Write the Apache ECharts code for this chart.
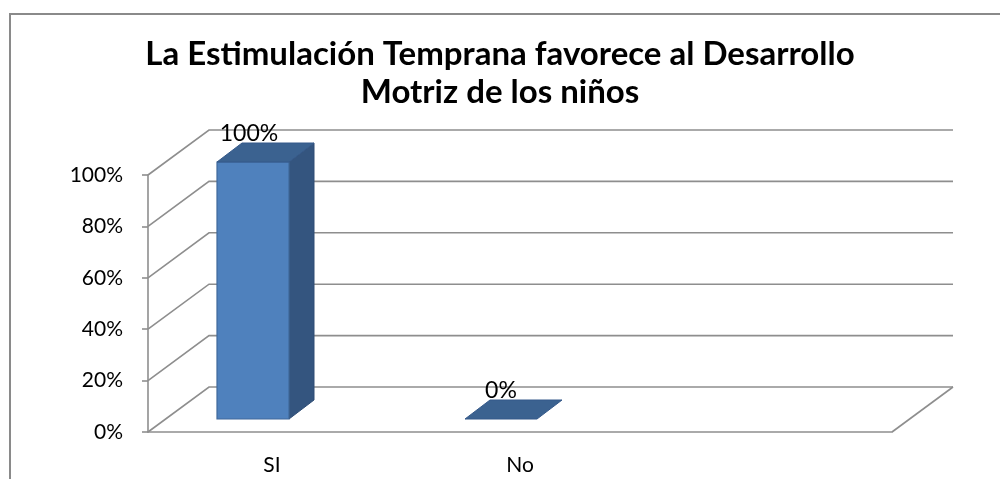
<!DOCTYPE html>
<html>
<head>
<meta charset="utf-8">
<script src="https://cdn.jsdelivr.net/npm/echarts@6/dist/echarts.min.js"></script>
<style>
  html, body { margin: 0; padding: 0; background: #fff; }
  #main { width: 1000px; height: 479px; }
</style>
</head>
<body>
<div id="main"></div>
<script>
var categories = ['SI', 'No', ''];
var percentValues = [100, 0];
var yTicks = [0, 20, 40, 60, 80, 100];

// oblique 3D look (pixels)
var WALL = [61, -45];      // back wall offset from the front plane
var BAR_SHIFT = [-19, -13]; // front face of a bar vs. front plane
var BAR_DEPTH = [25, -19];
var BAR_W = 72;
var GRID_COLOR = '#8e8e8e';

var chartDom = document.getElementById('main');
var myChart = echarts.init(chartDom);

/** back wall gridlines + side wall diagonals */
function renderWall(params, api) {
    var cs = params.coordSys;
    var v = api.value(0);
    var y = api.coord([0, v])[1];
    var xl = cs.x, xr = cs.x + cs.width;
    var children = [{
        type: 'polyline',
        shape: { points: [[xl, y], [xl + WALL[0], y + WALL[1]], [xr + WALL[0], y + WALL[1]]] },
        style: { stroke: GRID_COLOR, lineWidth: 1.6, fill: null }
    }];
    if (v === 0) {
        children.push({
            type: 'line',
            shape: { x1: xr, y1: y, x2: xr + WALL[0], y2: y + WALL[1] },
            style: { stroke: GRID_COLOR, lineWidth: 1.6 }
        });
    }
    return { type: 'group', children: children };
}

function renderBar(params, api) {
    var c = api.value(0);
    var v = api.value(1);
    var base = api.coord([c, 0]);
    var top = api.coord([c, v]);
    var cx = base[0] + BAR_SHIFT[0];
    var y0 = base[1] + BAR_SHIFT[1];
    var y1 = top[1] + BAR_SHIFT[1];
    var x0 = cx - BAR_W / 2, x1 = cx + BAR_W / 2;
    var dx = BAR_DEPTH[0], dy = BAR_DEPTH[1];
    var children = [];
    if (y0 - y1 > 0.5) {
        children.push({
            type: 'polygon',
            shape: { points: [[x1, y1], [x1 + dx, y1 + dy], [x1 + dx, y0 + dy], [x1, y0]] },
            style: { fill: '#34557f', stroke: '#2f4d75', lineWidth: 1 }
        });
        children.push({
            type: 'rect',
            shape: { x: x0, y: y1, width: BAR_W, height: y0 - y1 },
            style: { fill: '#4f81bd', stroke: '#40699b', lineWidth: 1.2 }
        });
    }
    children.push({
        type: 'polygon',
        shape: { points: [[x0, y1], [x1, y1], [x1 + dx, y1 + dy], [x0 + dx, y1 + dy]] },
        style: { fill: '#3b6290', stroke: '#35598a', lineWidth: 1 }
    });
    children.push({
        type: 'text',
        x: cx - (v > 0 ? 4 : 0),
        y: y1 + dy + 2,
        style: {
            text: v + '%',
            fill: '#000',
            font: '23px Lato',
            align: 'center',
            verticalAlign: 'bottom'
        }
    });
    return { type: 'group', children: children };
}

var option = {
    animation: false,
    backgroundColor: '#fff',
    title: {
        text: 'La Estimulación Temprana favorece al Desarrollo\nMotriz de los niños',
        left: 'center',
        top: 30,
        padding: [5, 5, 5, 21],
        textStyle: {
            fontFamily: 'Lato',
            fontWeight: 'bold',
            fontSize: 33,
            lineHeight: 38,
            color: '#000'
        }
    },
    graphic: [{
        type: 'rect',
        shape: { x: 10, y: 14, width: 1000, height: 500 },
        style: { fill: null, stroke: '#8a8a8a', lineWidth: 2 },
        silent: true
    }],
    grid: { left: 148, right: 108, top: 175, bottom: 47 },
    xAxis: {
        type: 'category',
        data: categories,
        axisLine: { lineStyle: { color: GRID_COLOR, width: 1.6 } },
        axisTick: { length: 6, lineStyle: { color: GRID_COLOR, width: 1.6 } },
        axisLabel: { color: '#000', fontFamily: 'Lato', fontSize: 21, margin: 23 }
    },
    yAxis: {
        type: 'value',
        min: 0,
        max: 100,
        interval: 20,
        axisLine: { show: true, lineStyle: { color: GRID_COLOR, width: 1.6 } },
        axisTick: { show: true, length: 6, lineStyle: { color: GRID_COLOR, width: 1.6 } },
        splitLine: { show: false },
        axisLabel: { color: '#000', fontFamily: 'Lato', fontSize: 21, margin: 25, formatter: '{value}%' }
    },
    series: [
        {
            type: 'custom',
            z: 1,
            renderItem: renderWall,
            data: yTicks.map(function (t) { return [t]; }),
            encode: { y: 0 },
            silent: true
        },
        {
            type: 'custom',
            z: 3,
            renderItem: renderBar,
            data: percentValues.map(function (v, i) { return [i, v]; }),
            encode: { x: 0, y: 1 }
        }
    ]
};

option && myChart.setOption(option);
</script>
</body>
</html>
